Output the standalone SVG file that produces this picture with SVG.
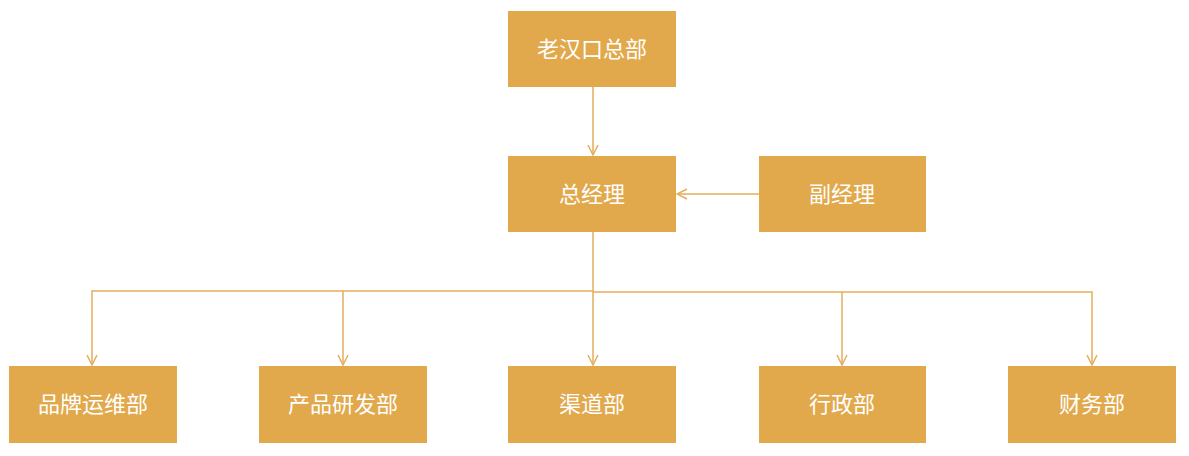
<svg xmlns="http://www.w3.org/2000/svg" width="1189" height="456" viewBox="0 0 1189 456">
<style>
.box{fill:#E1A94B;}
.lbl{fill:#FFFFFF;font-family:"Liberation Serif","Noto Sans CJK SC",serif;font-size:22px;text-anchor:middle;dominant-baseline:central;}
.ln{stroke:#E5AE5C;stroke-width:1.5;fill:none;}
</style>
<defs>
<marker id="arr" viewBox="0 0 12 12" refX="11" refY="6" markerWidth="12" markerHeight="12" markerUnits="userSpaceOnUse" orient="auto">
<path d="M1,1 L11,6 L1,11" fill="none" stroke="#E5AE5C" stroke-width="1.5"/>
</marker>
</defs>
<g id="connectors">
<path class="ln" d="M593,87 V155" marker-end="url(#arr)"/>
<path class="ln" d="M759,194 H677" marker-end="url(#arr)"/>
<path class="ln" d="M593,232 V365" marker-end="url(#arr)"/>
<path class="ln" d="M593,291 H92 V365" marker-end="url(#arr)"/>
<path class="ln" d="M343,291 V365" marker-end="url(#arr)"/>
<path class="ln" d="M593,292 H1092 V365" marker-end="url(#arr)"/>
<path class="ln" d="M842,292 V365" marker-end="url(#arr)"/>
</g>
<g id="hq"><rect class="box" x="508" y="11" width="168" height="76"/><text class="lbl" x="592" y="49">老汉口总部</text></g>
<g id="gm"><rect class="box" x="508" y="156" width="168" height="76"/><text class="lbl" x="592" y="194">总经理</text></g>
<g id="dgm"><rect class="box" x="759" y="156" width="167" height="76"/><text class="lbl" x="842" y="194">副经理</text></g>
<g id="brand"><rect class="box" x="9" y="366" width="168" height="77"/><text class="lbl" x="93" y="404">品牌运维部</text></g>
<g id="product"><rect class="box" x="259" y="366" width="168" height="77"/><text class="lbl" x="343" y="404">产品研发部</text></g>
<g id="channel"><rect class="box" x="508" y="366" width="168" height="77"/><text class="lbl" x="592" y="404">渠道部</text></g>
<g id="admin"><rect class="box" x="759" y="366" width="167" height="77"/><text class="lbl" x="842" y="404">行政部</text></g>
<g id="finance"><rect class="box" x="1008" y="366" width="168" height="77"/><text class="lbl" x="1092" y="404">财务部</text></g>
</svg>
